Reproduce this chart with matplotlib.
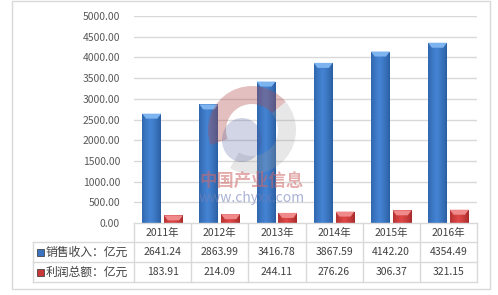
import matplotlib
matplotlib.use("Agg")
import matplotlib.pyplot as plt
import numpy as np
from matplotlib.patches import Rectangle, Polygon, Wedge, Ellipse
import matplotlib.transforms as mtransforms

plt.rcParams['font.family'] = ['Noto Sans CJK SC', 'DejaVu Sans']

years = ["2011年", "2012年", "2013年", "2014年", "2015年", "2016年"]
sales = [2641.24, 2863.99, 3416.78, 3867.59, 4142.20, 4354.49]
profit = [183.91, 214.09, 244.11, 276.26, 306.37, 321.15]
series_names = ["销售收入：亿元", "利润总额：亿元"]
yticks = [0, 500, 1000, 1500, 2000, 2500, 3000, 3500, 4000, 4500, 5000]

W, H = 498, 295
fig = plt.figure(figsize=(W / 100, H / 100), dpi=100)
fig.patch.set_facecolor("white")

# outer border
fig.add_artist(Rectangle((12 / W, 1 - 289 / H), (490 - 12) / W, (289 - 1) / H,
                         transform=fig.transFigure, fill=False, ec="#D9D9D9", lw=1))

L, R, T, B = 134, 477, 16, 223
ax = fig.add_axes([L / W, 1 - B / H, (R - L) / W, (B - T) / H])
ax.set_xlim(-0.5, len(years) - 0.5)
ax.set_ylim(0, 5000)
for s in ax.spines.values():
    s.set_visible(False)
ax.set_yticks(yticks)
ax.set_yticklabels([f"{v:.2f}" for v in yticks])
ax.tick_params(axis="y", length=0, pad=10, labelsize=7.5, labelcolor="#595959")
ax.set_xticks([])
for v in yticks[1:]:
    ax.axhline(v, color="#D9D9D9", lw=1, zorder=0)

# watermark (logo in figure pixel coordinates, y downward)
wm_ax = fig.add_axes([0, 0, 1, 1], zorder=5)
wm_ax.set_xlim(0, W)
wm_ax.set_ylim(H, 0)
wm_ax.axis("off")
wm_ax.set_aspect("equal")
wm_ax.patch.set_alpha(0)
cx, cy = 252, 130
wm_ax.add_patch(Wedge((cx, cy), 44, 160, 320, width=18, fc="#B04848", ec="none", alpha=0.35))
wm_ax.add_patch(Wedge((cx, cy), 44, -40, 120, width=18, fc="#A0A0A0", ec="none", alpha=0.25))
wm_ax.add_patch(Ellipse((cx - 10, cy + 10), 40, 44, fc="#4A5A9A", ec="none", alpha=0.25))
wm_ax.text(cx, 181, "中国产业信息", ha="center", va="center", fontsize=12.5, color="#D06868",
           alpha=0.55, fontweight="bold")
wm_ax.text(cx, 198, "www.chyxx.com", ha="center", va="center", fontsize=10, color="#7080B8",
           alpha=0.6)

x = np.arange(len(years))
bw = 0.33
off = 0.19

def grad_bar(xc, h, cmap_colors, top_col):
    rect = Rectangle((xc - bw / 2, 0), bw, h, fc="none", ec="none")
    ax.add_patch(rect)
    g = np.linspace(0, 1, 64)
    prof = 1 - np.abs(g - 0.45) * 1.6
    prof = np.clip(prof, 0, 1) ** 0.6
    c0 = np.array(matplotlib.colors.to_rgb(cmap_colors[0]))
    c1 = np.array(matplotlib.colors.to_rgb(cmap_colors[1]))
    img = c0[None, :] + (c1 - c0)[None, :] * prof[:, None]
    im = ax.imshow(img[None, :, :], extent=(xc - bw / 2, xc + bw / 2, 0, h), aspect="auto",
                   zorder=2, interpolation="bilinear")
    im.set_clip_path(rect)
    cap = 5000 * 5 / (B - T)
    ax.add_patch(Polygon([(xc - bw / 2, h), (xc + bw / 2, h), (xc + bw / 2 - bw * 0.2, h - cap),
                          (xc - bw / 2 + bw * 0.2, h - cap)], closed=True, fc=top_col, ec="none",
                         zorder=3))

for i in range(len(years)):
    grad_bar(x[i] - off, sales[i], ["#1F4E8C", "#4584D4"], "#7DB4F0")
    grad_bar(x[i] + off, profit[i], ["#8E1F1F", "#E04848"], "#F08A8A")

ax.set_xlim(-0.5, len(years) - 0.5)
ax.set_ylim(0, 5000)

# table
trans = mtransforms.blended_transform_factory(ax.transData, ax.transAxes)
ah = B - T
rows_px = [223, 242, 262, 282]
ry = [-(r - B) / ah for r in rows_px]
line_c = "#D9D9D9"
legend_left_ax = (33 - L) / (R - L)
transA = ax.transAxes

def hline(y, x0, x1):
    ax.plot([x0, x1], [y, y], transform=transA, color=line_c, lw=1, clip_on=False)

def vline(xa, y0, y1):
    ax.plot([xa, xa], [y0, y1], transform=transA, color=line_c, lw=1, clip_on=False)

hline(ry[0], 0, 1)
hline(ry[1], legend_left_ax, 1)
hline(ry[2], legend_left_ax, 1)
hline(ry[3], legend_left_ax, 1)
for k in range(len(years) + 1):
    vline(k / len(years), ry[0], ry[3])
vline(legend_left_ax, ry[1], ry[3])

txt_c = "#404040"
for i, yl in enumerate(years):
    ax.text(x[i], (ry[0] + ry[1]) / 2, yl, transform=trans, ha="center", va="center",
            fontsize=7.5, color=txt_c)
    ax.text(x[i], (ry[1] + ry[2]) / 2, f"{sales[i]:.2f}", transform=trans, ha="center",
            va="center", fontsize=7.5, color=txt_c)
    ax.text(x[i], (ry[2] + ry[3]) / 2, f"{profit[i]:.2f}", transform=trans, ha="center",
            va="center", fontsize=7.5, color=txt_c)

sq = 7
for j, (name, col) in enumerate(zip(series_names, ["#3A74C0", "#C83838"])):
    yc = (rows_px[j + 1] + rows_px[j + 2]) / 2
    fig.add_artist(Rectangle((37 / W, 1 - (yc + sq / 2) / H), sq / W, sq / H,
                             transform=fig.transFigure, fc=col, ec="#303030", lw=0.5))
    fig.text(46 / W, 1 - yc / H, name, ha="left", va="center", fontsize=8.5, color=txt_c)

fig.savefig("out.png", dpi=100, facecolor="white")
